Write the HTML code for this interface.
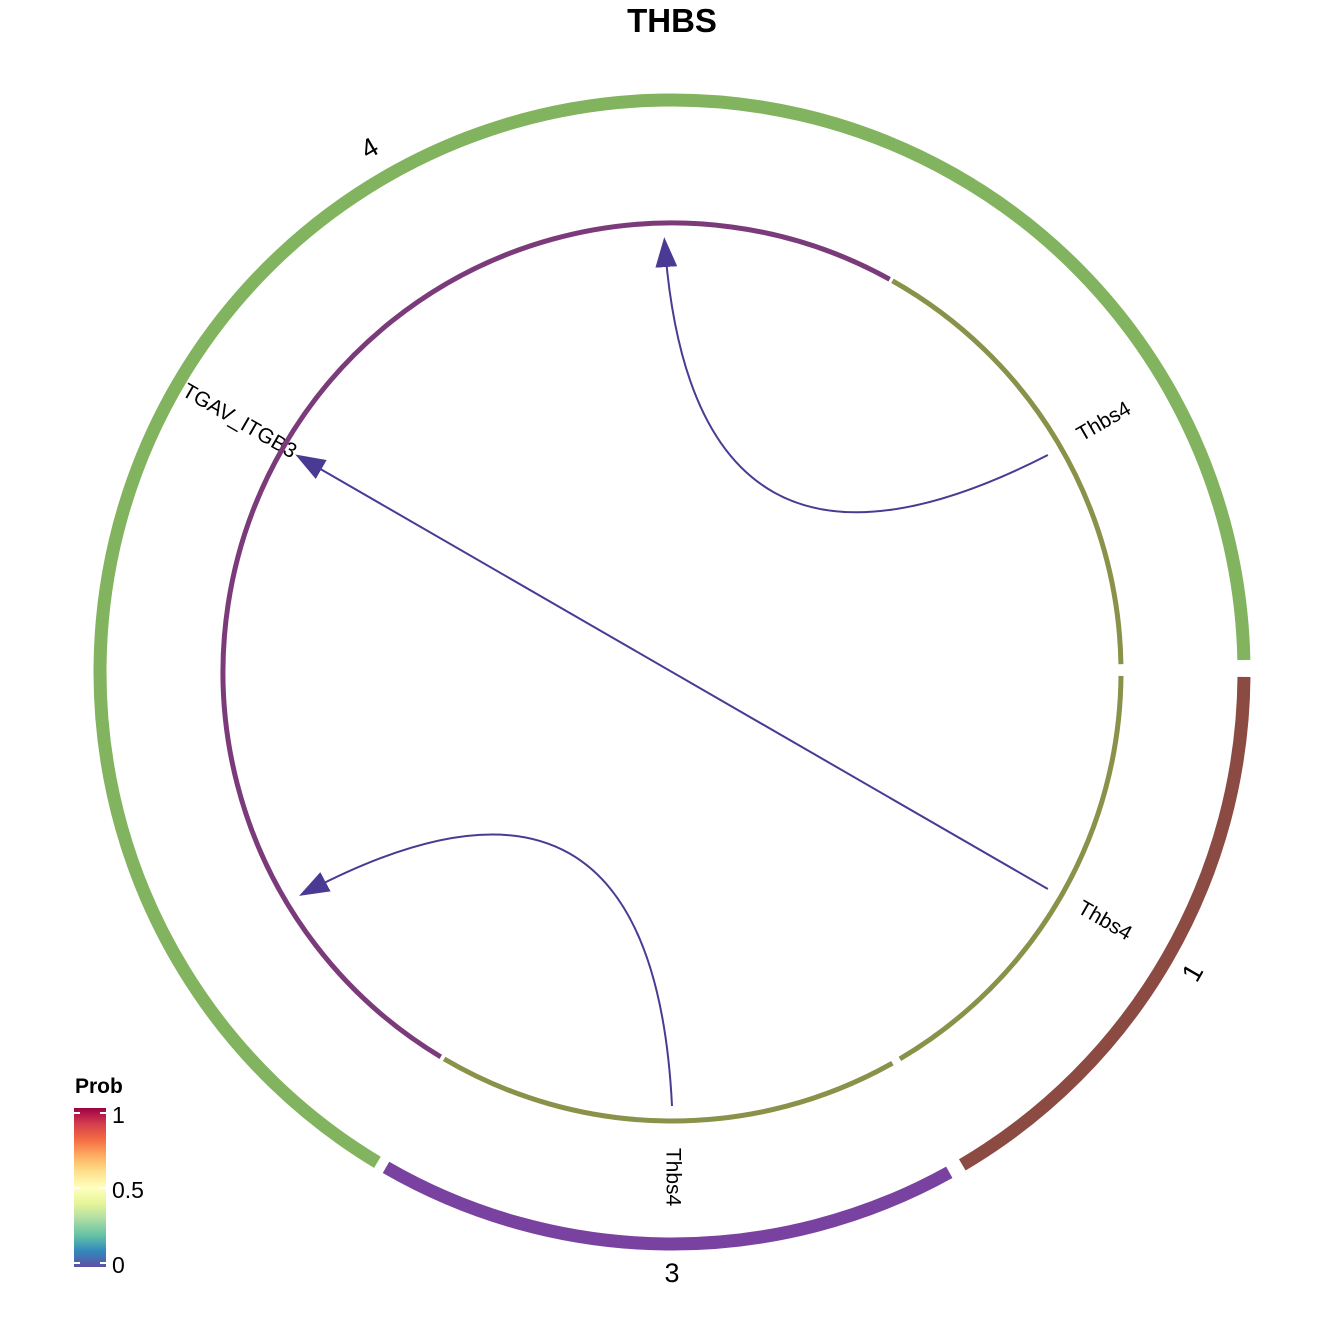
<!DOCTYPE html>
<html><head><meta charset="utf-8"><style>
body{margin:0;background:#fff}
svg{display:block;font-family:"Liberation Sans",Arial,sans-serif}
</style></head><body>
<svg id="chart" width="1344" height="1344" viewBox="0 0 1344 1344">
<defs>
<linearGradient id="spec" x1="0" y1="1" x2="0" y2="0">
<stop offset="0" stop-color="#5E4FA2"/><stop offset="0.1" stop-color="#3288BD"/><stop offset="0.2" stop-color="#66C2A5"/><stop offset="0.3" stop-color="#ABDDA4"/><stop offset="0.4" stop-color="#E6F598"/><stop offset="0.5" stop-color="#FFFFBF"/><stop offset="0.6" stop-color="#FEE08B"/><stop offset="0.7" stop-color="#FDAE61"/><stop offset="0.8" stop-color="#F46D43"/><stop offset="0.9" stop-color="#D53E4F"/><stop offset="1" stop-color="#9E0142"/>
</linearGradient>
<marker id="arr" markerWidth="30" markerHeight="22" refX="9" refY="3.65" orient="auto" markerUnits="userSpaceOnUse" viewBox="0 0 10 7.3">
<path d="M0,0 L10,3.65 L0,7.3 Z" fill="#4B3A94"/></marker>
</defs>
<text x="672" y="32" text-anchor="middle" font-size="33" font-weight="bold">THBS</text>
<g id="chords"></g>
<g id="rings"></g>
<g>
<text x="75" y="1093" font-size="21" font-weight="bold">Prob</text>
<rect x="74" y="1108" width="32" height="159" fill="url(#spec)"/>
<g stroke="#fff" stroke-width="2">
<line x1="74" y1="1113" x2="80" y2="1113"/><line x1="100" y1="1113" x2="106" y2="1113"/>
<line x1="74" y1="1188" x2="80" y2="1188"/><line x1="100" y1="1188" x2="106" y2="1188"/>
<line x1="74" y1="1263" x2="80" y2="1263"/><line x1="100" y1="1263" x2="106" y2="1263"/>
</g>
<text x="112" y="1123" font-size="23">1</text>
<text x="112" y="1198" font-size="23">0.5</text>
<text x="112" y="1273" font-size="23">0</text>
</g>
</svg>
<script>
const outerNames=["4","1","3"];
const outerStart=[121,0.5,61];
const outerEnd=[358.8,59.5,120];
const outerColors=["#82B35E","#8B4A42","#7A42A0"];
const innerStart=[121,299.4,0.5,60.6];
const innerEnd=[299,359,59.5,120.5];
const innerColors=["#7B3B7A","#8A9148","#8A9148","#8A9148"];
const chordFrom=[-30,30,90];
const chordTo=[-91,-150,149];
const chordCurved=[true,false,true];
const cx=672,cy=672,NS="http://www.w3.org/2000/svg";
function pt(r,a){const t=a*Math.PI/180;return [cx+r*Math.cos(t),cy+r*Math.sin(t)];}
function arc(r,a0,a1){const p0=pt(r,a0),p1=pt(r,a1);const large=(a1-a0)>180?1:0;return `M${p0[0]},${p0[1]} A${r},${r} 0 ${large} 1 ${p1[0]},${p1[1]}`;}
const chords=document.getElementById('chords'),rings=document.getElementById('rings');
for(let i=0;i<chordFrom.length;i++){
 const p0=pt(434,chordFrom[i]),p1=pt(432,chordTo[i]);
 let d;
 if(chordCurved[i]){const c=pt(40,(chordFrom[i]+chordTo[i])/2);d=`M${p0[0]},${p0[1]} Q${c[0]},${c[1]} ${p1[0]},${p1[1]}`;}
 else d=`M${p0[0]},${p0[1]} L${p1[0]},${p1[1]}`;
 const el=document.createElementNS(NS,'path');
 el.setAttribute('d',d);el.setAttribute('fill','none');el.setAttribute('stroke','#4B3A94');el.setAttribute('stroke-width','2');
 el.setAttribute('marker-end','url(#arr)');
 
 
 chords.appendChild(el);
}
const labels=[["Thbs4",-30,470,-30,"start"],["Thbs4",30,470,30,"start"],["Thbs4",90,505,90,"middle"],["ITGAV_ITGB3",-150,436,30,"end"]];
for(const L of labels){
 const p=pt(L[2],L[1]);const t=document.createElementNS(NS,'text');
 t.setAttribute('x',p[0]);t.setAttribute('y',p[1]);t.setAttribute('font-size','21');
 t.setAttribute('text-anchor',L[4]);t.setAttribute('dominant-baseline','middle');
 t.setAttribute('transform',`rotate(${L[3]} ${p[0]} ${p[1]})`);t.textContent=L[0];
 
 
 chords.appendChild(t);
}
for(let i=0;i<innerStart.length;i++){
 const el=document.createElementNS(NS,'path');
 el.setAttribute('d',arc(449,innerStart[i],innerEnd[i]));el.setAttribute('fill','none');el.setAttribute('stroke',innerColors[i]);el.setAttribute('stroke-width','5');
 
 
 rings.appendChild(el);
}
const outerLab=[[-120,-30],[30,-60],[90,0]];
for(let i=0;i<outerStart.length;i++){
 const el=document.createElementNS(NS,'path');
 el.setAttribute('d',arc(572,outerStart[i],outerEnd[i]));el.setAttribute('fill','none');el.setAttribute('stroke',outerColors[i]);el.setAttribute('stroke-width','13');
 
 
 rings.appendChild(el);
 const p=pt(603,outerLab[i][0]);const t=document.createElementNS(NS,'text');
 t.setAttribute('x',p[0]);t.setAttribute('y',p[1]);t.setAttribute('font-size','27');t.setAttribute('text-anchor','middle');t.setAttribute('dominant-baseline','middle');
 t.setAttribute('transform',`rotate(${outerLab[i][1]} ${p[0]} ${p[1]})`);t.textContent=outerNames[i];
 
 
 rings.appendChild(t);
}
</script>
</body></html>
